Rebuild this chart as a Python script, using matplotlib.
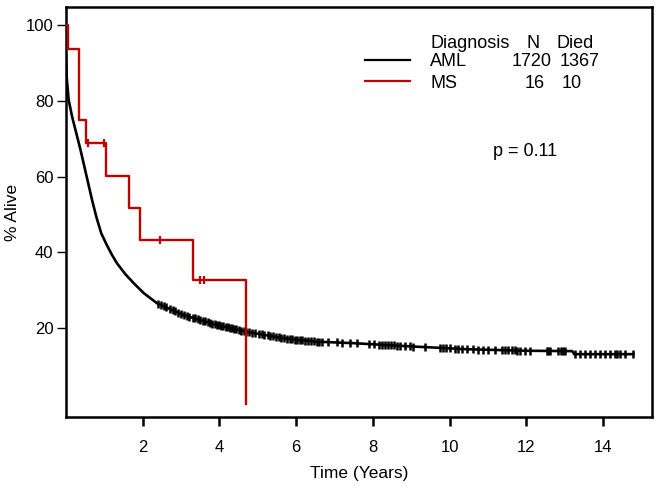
import numpy as np
import matplotlib
matplotlib.use("Agg")
import matplotlib.pyplot as plt
from matplotlib.lines import Line2D

plt.rcParams['font.family'] = ['Liberation Sans', 'DejaVu Sans']

# AML survival curve (time in years, % alive)
aml_t = [0, 0.02, 0.07, 0.16, 0.27, 0.38, 0.48, 0.58, 0.68, 0.79, 0.92,
         1.07, 1.20, 1.33, 1.55, 1.77, 2.03, 2.38, 3.07, 3.94, 4.72, 5.67,
         6.11, 6.54, 7.5, 8.71, 10.45, 12.0, 13.2, 13.25, 14.79]
aml_s = [92, 86, 80.2, 75.8, 71.4, 67.0, 62.6, 58.2, 53.8, 49.4, 45.0,
         41.8, 39.3, 37.1, 34.2, 31.8, 29.2, 26.5, 23.4, 20.8, 19.0, 17.3,
         16.8, 16.4, 16.0, 15.3, 14.4, 14.0, 13.9, 13.1, 13.1]

# AML censored times
aml_cens = [2.40, 2.47, 2.55, 2.61, 2.70, 2.78, 2.84, 2.93, 3.01, 3.08,
            3.15, 3.22, 3.30, 3.36, 3.44, 3.50, 3.57, 3.63, 3.70, 3.76,
            3.82, 3.88, 3.93, 3.99, 4.05, 4.10, 4.16, 4.22, 4.27, 4.33,
            4.38, 4.44, 4.50, 4.57, 4.63, 4.70, 4.78, 4.85, 4.93, 5.02,
            5.10, 5.17, 5.26, 5.33, 5.40, 5.48, 5.55, 5.61, 5.68, 5.76,
            5.83, 5.90, 5.96, 6.03, 6.10, 6.16, 6.24, 6.31, 6.39, 6.46,
            6.54, 6.61, 6.68, 6.84, 7.06, 7.19, 7.41, 7.58, 7.89, 8.02,
            8.15, 8.25, 8.32, 8.40, 8.47, 8.55, 8.62, 8.71, 8.84, 8.97,
            9.06, 9.36, 9.75, 9.82, 9.90, 10.0, 10.15, 10.22, 10.32, 10.45,
            10.62, 10.75, 10.88, 11.01, 11.18, 11.36, 11.45, 11.53, 11.62,
            11.70, 11.77, 11.84, 11.97, 12.10, 12.53, 12.58, 12.62, 12.83,
            12.90, 12.96, 13.0, 13.27, 13.40, 13.53, 13.66, 13.79, 13.92,
            14.05, 14.18, 14.31, 14.37, 14.44, 14.57, 14.79]

# MS step curve
ms_t = [0, 0.05, 0.33, 0.53, 1.03, 1.64, 1.94, 3.31, 4.69]
ms_s = [100, 93.8, 75.0, 68.8, 60.2, 51.8, 43.3, 32.6, 0]
ms_cens_t = [0.57, 0.98, 2.46, 3.50, 3.59]

xticks = [2, 4, 6, 8, 10, 12, 14]
yticks = [20, 40, 60, 80, 100]

red = '#c00000'

fig = plt.figure(figsize=(6.58, 4.92), dpi=100)
ax = fig.add_axes([66 / 658, 1 - 417 / 492, (652 - 66) / 658, (417 - 7) / 492])

ax.plot(aml_t, aml_s, color='black', lw=1.9, zorder=2)
aml_cy = np.interp(aml_cens, aml_t, aml_s)
ax.plot(aml_cens, aml_cy, ls='none', marker='|', ms=6, mew=1.8,
        color='black', zorder=2)

ax.plot(ms_t, ms_s, color=red, lw=1.7, drawstyle='steps-post', zorder=3)
ms_cy = [ms_s[np.searchsorted(ms_t, t, side='right') - 1] for t in ms_cens_t]
ax.plot(ms_cens_t, ms_cy, ls='none', marker='|', ms=6, mew=1.6,
        color=red, zorder=3)

ax.set_xlim(0, 15.28)
ax.set_ylim(-3.5, 104.8)
ax.set_xticks(xticks)
ax.set_yticks(yticks)
ax.tick_params(axis='x', direction='out', length=6.5, width=1.8,
               labelsize=12, pad=10)
ax.tick_params(axis='y', direction='out', length=6.5, width=1,
               labelsize=12, pad=2.5)
for sp in ax.spines.values():
    sp.set_linewidth(1.8)

ax.set_xlabel('Time (Years)', fontsize=12.5, labelpad=8)
ax.set_ylabel('% Alive', fontsize=12.5, labelpad=4)

# legend block drawn by hand
def fx(px):
    return px / 658

def fy(py):
    return 1 - py / 492

fs = 13
fig.add_artist(Line2D([fx(365), fx(410)], [fy(60), fy(60)], color='black', lw=1.6))
fig.add_artist(Line2D([fx(365), fx(410)], [fy(81), fy(81)], color=red, lw=1.6))
fig.text(fx(430), fy(43.5), 'Diagnosis', fontsize=fs, va='center', ha='left')
fig.text(fx(533.5), fy(43.5), 'N', fontsize=fs, va='center', ha='center')
fig.text(fx(557), fy(43.5), 'Died', fontsize=fs, va='center', ha='left')
fig.text(fx(430), fy(61), 'AML', fontsize=fs, va='center', ha='left')
fig.text(fx(552), fy(61), '1720', fontsize=fs, va='center', ha='right')
fig.text(fx(600), fy(61), '1367', fontsize=fs, va='center', ha='right')
fig.text(fx(430), fy(84), 'MS', fontsize=fs, va='center', ha='left')
fig.text(fx(545), fy(84), '16', fontsize=fs, va='center', ha='right')
fig.text(fx(582), fy(84), '10', fontsize=fs, va='center', ha='right')
fig.text(fx(493), fy(152), 'p = 0.11', fontsize=fs, va='center', ha='left')

fig.savefig('out.png', dpi=100)
